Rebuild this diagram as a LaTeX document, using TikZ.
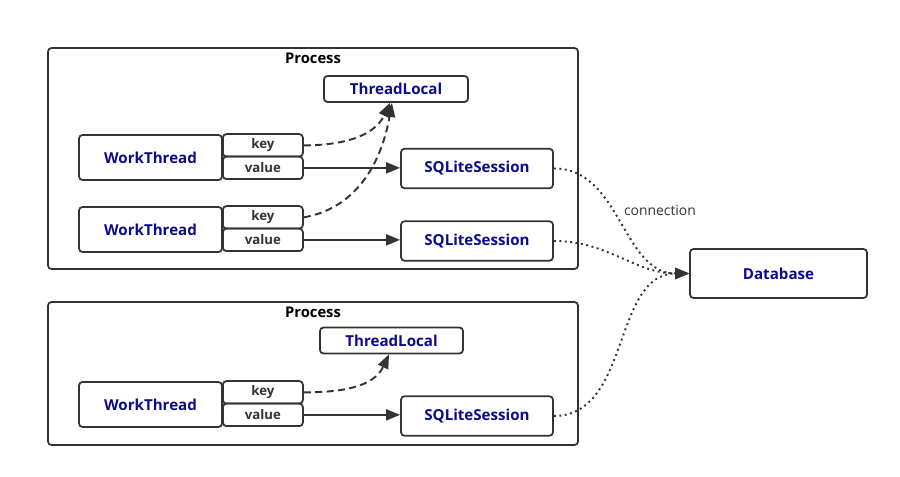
\documentclass[tikz,border=0pt]{standalone}
\usepackage{fontspec}
\setmainfont{Open Sans}
\usepackage{xcolor}
\usepackage{tikz}
\usetikzlibrary{arrows.meta,positioning}
\definecolor{ink}{HTML}{333333}
\definecolor{nameblue}{HTML}{0A0A90}
\tikzset{
  proc/.style={rectangle, rounded corners=2pt, draw=ink, line width=1pt, minimum width=10.6cm},
  box/.style={rectangle, rounded corners=2pt, draw=ink, line width=1pt, align=center, text=nameblue, font=\bfseries\fontsize{8.6}{10}\selectfont, inner sep=0pt},
  slot/.style={rectangle, rounded corners=2pt, draw=ink, line width=1pt, text=ink, font=\bfseries\fontsize{7.5}{9}\selectfont, minimum width=1.6cm, minimum height=0.45cm, inner sep=0pt},
  arrow/.style={-{Triangle[length=2.8mm,width=2.2mm]}, line width=1.1pt, draw=ink},
  dashedarrow/.style={arrow, dash pattern=on 4pt off 2.5pt},
  dotarrow/.style={arrow, dotted, line width=1.1pt}
}
\begin{document}
\begin{tikzpicture}[
  thread/.style={box, minimum width=2.86cm, minimum height=0.9cm},
  local/.style={box, minimum width=2.88cm, minimum height=0.52cm},
  session/.style={box, minimum width=3.04cm, minimum height=0.79cm},
  title/.style={text=black, font=\bfseries\fontsize{8.4}{10}\selectfont}
]
  \useasboundingbox (0,0) rectangle (18,-9.54);

  \node[proc, minimum height=4.42cm] (proc1) at (6.26,-3.17) {};
  \node[title] (title1) at (6.26,-1.16) {Process};
  \node[local] (tl1) at (7.92,-1.78) {ThreadLocal};
  \node[thread] (wt1) at (3.01,-3.15) {WorkThread};
  \node[slot, anchor=north west] (key1) at ([xshift=-0.5pt,yshift=0.5pt]wt1.north east) {key};
  \node[slot, anchor=north west] (val1) at ([yshift=1pt]key1.south west) {value};
  \node[session] (sql1) at (9.54,-3.37) {SQLiteSession};
  \node[thread] (wt2) at (3.01,-4.59) {WorkThread};
  \node[slot, anchor=north west] (key2) at ([xshift=-0.5pt,yshift=0.5pt]wt2.north east) {key};
  \node[slot, anchor=north west] (val2) at ([yshift=1pt]key2.south west) {value};
  \node[session] (sql2) at (9.54,-4.82) {SQLiteSession};

  \node[proc, minimum height=2.86cm] (proc2) at (6.26,-7.47) {};
  \node[title] (title2) at (6.26,-6.24) {Process};
  \node[local, minimum width=2.86cm] (tl2) at (7.83,-6.81) {ThreadLocal};
  \node[thread] (wt3) at (3.01,-8.09) {WorkThread};
  \node[slot, anchor=north west] (key3) at ([xshift=-0.5pt,yshift=0.5pt]wt3.north east) {key};
  \node[slot, anchor=north west] (val3) at ([yshift=1pt]key3.south west) {value};
  \node[session] (sql3) at (9.54,-8.32) {SQLiteSession};

  \node[box, minimum width=3.54cm, minimum height=0.98cm] (db) at (15.57,-5.47) {Database};
  \node[text=ink, font=\fontsize{7.9}{9}\selectfont] (conn) at (13.2,-4.2) {connection};

  \draw[dashedarrow] (key1.east) to[out=0, in=-115] ([xshift=-0.12cm]tl1.south);
  \draw[dashedarrow] (key2.east) to[out=10, in=-100] ([xshift=-0.08cm]tl1.south);
  \draw[dashedarrow] (key3.east) to[out=0, in=-115] ([xshift=-0.05cm]tl2.south);
  \draw[arrow] (val1.east) -- (val1.east -| sql1.west);
  \draw[arrow] (val2.east) -- (val2.east -| sql2.west);
  \draw[arrow] (val3.east) -- (val3.east -| sql3.west);
  \draw[dotarrow] (sql1.east) to[out=0, in=180] (db.west);
  \draw[dotarrow] (sql2.east) to[out=0, in=180] (db.west);
  \draw[dotarrow] (sql3.east) to[out=0, in=180] (db.west);
\end{tikzpicture}
\end{document}
